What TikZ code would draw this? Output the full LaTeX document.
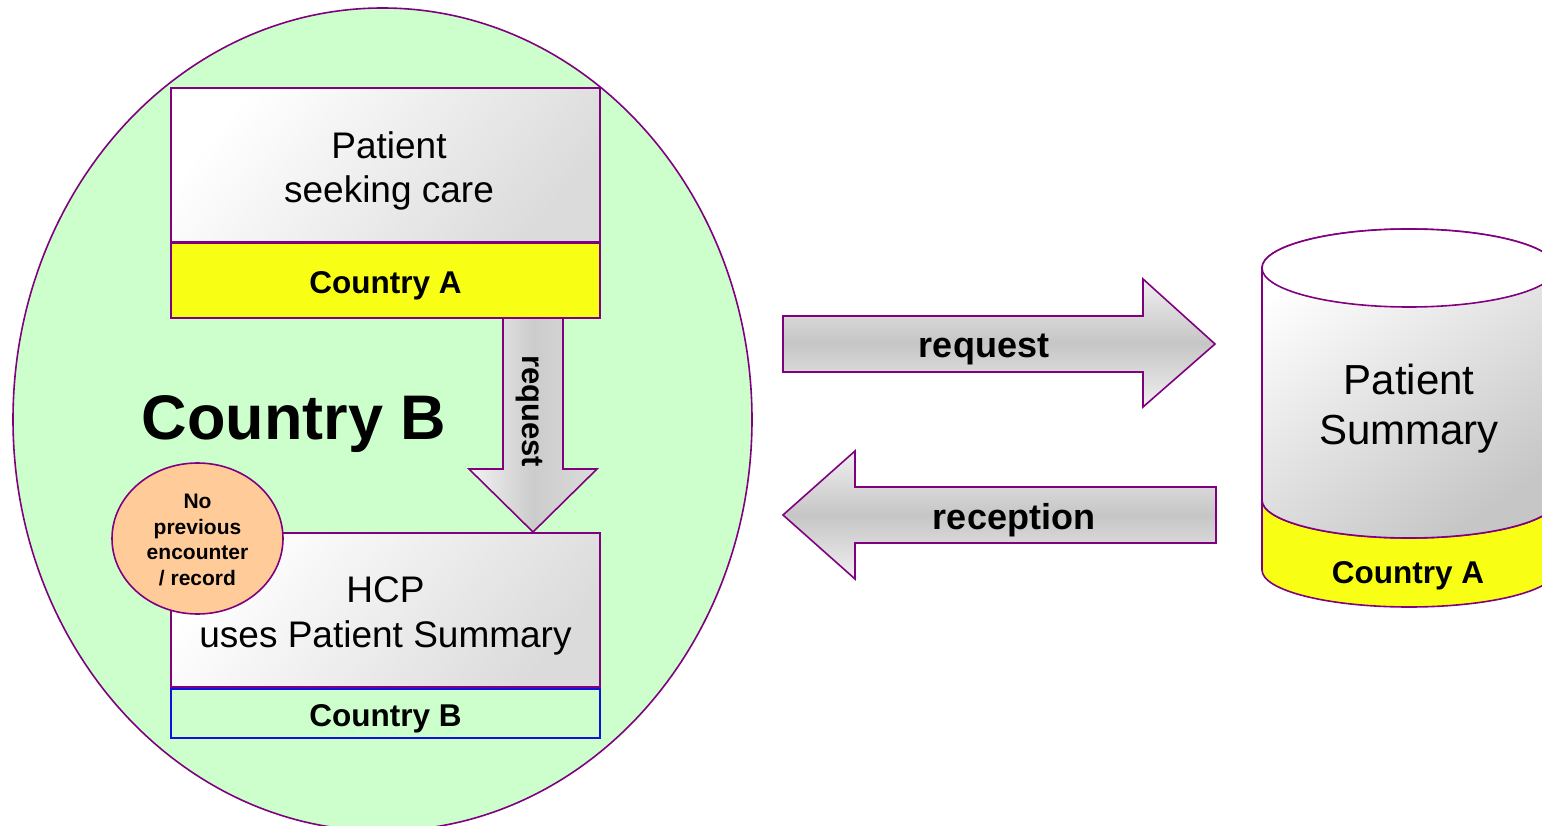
\documentclass[tikz,border=0pt]{standalone}
\usepackage{fontspec}
\setmainfont{Liberation Sans}
\usetikzlibrary{shapes.geometric}
\definecolor{pline}{HTML}{800080}
\definecolor{bggreen}{HTML}{CCFFCC}
\definecolor{ylw}{HTML}{F8FF14}
\definecolor{orng}{HTML}{FFCC99}
\definecolor{bline}{HTML}{1010E0}
\tikzset{
  outl/.style={draw=pline, line width=1.6pt},
  graybox/.style={outl, rectangle, inner sep=0pt, minimum width=429pt,
     top color=white, bottom color=gray!28, shading angle=50},
  ylwbox/.style={outl, rectangle, inner sep=0pt, minimum width=429pt, fill=ylw},
  blockarrowh/.style={outl, top color=gray!12, bottom color=gray!12, middle color=gray!45},
  blockarrowv/.style={outl, left color=gray!10, right color=gray!28, middle color=gray!40},
  lbl/.style={inner sep=0pt, align=center, text=black},
}
\begin{document}
\begin{tikzpicture}[x=1pt,y=-1pt]
\useasboundingbox (0,0) rectangle (1542,826);
\fill[white] (0,0) rectangle (1542,826);

% Country B region
\node[outl, ellipse, fill=bggreen, inner sep=0pt, minimum width=739pt, minimum height=823pt] (regionB) at (382.5,419.5) {};
\node[lbl, font=\bfseries\fontsize{63}{70}\selectfont] (regionBlabel) at (294,424) {Country B};

% Patient box
\node[graybox, minimum height=154pt] (patient) at (385.5,165) {};
\node[lbl, font=\fontsize{37}{43.5}\selectfont] (patientlabel) at (389,171) {Patient\\ seeking care};
\node[ylwbox, minimum height=75pt] (countryA) at (385.5,280.5) {};
\node[lbl, font=\bfseries\fontsize{31.5}{36}\selectfont] (countryAlabel) at (385.5,286) {Country A};

% HCP box
\node[graybox, minimum height=154pt] (hcp) at (385.5,610) {};
\node[lbl, font=\fontsize{37}{45.5}\selectfont] (hcplabel) at (385.5,616) {HCP\\ uses Patient Summary};
\node[outl, draw=bline, rectangle, inner sep=0pt, minimum width=429pt, minimum height=49pt, fill=bggreen] (countryBbox) at (385.5,713.5) {};
\node[lbl, font=\bfseries\fontsize{31.5}{36}\selectfont] (countryBlabel) at (385.5,719) {Country B};

% vertical request arrow
\path[blockarrowv] (503,318) -- (563,318) -- (563,469) -- (597,469) -- (533,532) -- (469,469) -- (503,469) -- cycle;
\coordinate (downtip) at (533,532);
\node[lbl, rotate=-90, font=\bfseries\fontsize{31}{36}\selectfont] (downlabel) at (529,411) {request};

% no previous encounter
\node[outl, ellipse, fill=orng, inner sep=0pt, minimum width=171pt, minimum height=151pt] (noprev) at (197.5,538.5) {};
\node[lbl, font=\bfseries\fontsize{21}{25.5}\selectfont] (noprevlabel) at (197.5,540) {No\\ previous\\ encounter\\ / record};

% horizontal arrows
\path[blockarrowh] (783,316) -- (1143,316) -- (1143,279) -- (1215,344) -- (1143,407) -- (1143,372) -- (783,372) -- cycle;
\node[lbl, font=\bfseries\fontsize{36}{42}\selectfont] (reqlabel) at (984,349) {request};
\path[blockarrowh] (1216,487) -- (855,487) -- (855,451) -- (783,515) -- (855,579) -- (855,543) -- (1216,543) -- cycle;
\node[lbl, font=\bfseries\fontsize{36}{42}\selectfont] (reclabel) at (1014,520) {reception};

% Patient summary cylinder
\path[outl, fill=ylw] (1262,500) -- (1262,570) arc[start angle=180, end angle=360, x radius=147pt, y radius=37pt]
   -- (1556,500) arc[start angle=360, end angle=180, x radius=147pt, y radius=38pt] -- cycle;
\path[outl, top color=white, bottom color=gray!45, shading angle=35] (1262,268) -- (1262,500)
   arc[start angle=180, end angle=360, x radius=147pt, y radius=38pt]
   -- (1556,268) arc[start angle=0, end angle=180, x radius=147pt, y radius=39pt] -- cycle;
\draw[outl, fill=white] (1409,268) ellipse [x radius=147pt, y radius=39pt];
\node[lbl, font=\fontsize{42}{50}\selectfont] (pslabel) at (1409,409) {Patient\\ Summary};
\node[lbl, font=\bfseries\fontsize{31.5}{36}\selectfont] (pscountry) at (1408,576) {Country A};
\end{tikzpicture}
\end{document}
